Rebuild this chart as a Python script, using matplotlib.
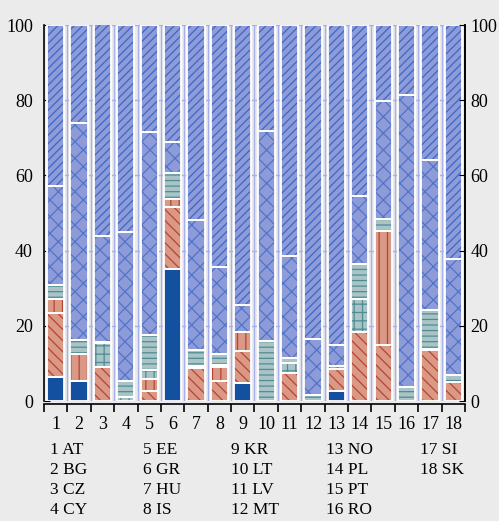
import numpy as np
import matplotlib
matplotlib.use('Agg')
import matplotlib.pyplot as plt

plt.rcParams['font.family'] = ['Liberation Serif', 'DejaVu Serif']
plt.rcParams['hatch.linewidth'] = 0.9

# bar numbers and country codes
bar_nums = list(range(1, 19))
countries = ['AT', 'BG', 'CZ', 'CY', 'EE', 'GR', 'HU', 'IS', 'KR',
             'LT', 'LV', 'MT', 'NO', 'PL', 'PT', 'RO', 'SI', 'SK']

# stacked shares (bottom to top)
seg_solid = [6.4, 5.2, 0, 0, 0, 35.2, 0, 0, 4.9, 0, 0, 0, 2.7, 0, 0, 0, 0, 0]
seg_diag = [17.1, 0, 9.0, 0, 2.6, 16.5, 8.8, 5.4, 8.3, 0, 7.5, 0, 5.9, 18.4, 15.0, 0, 13.6, 5.1]
seg_vert = [3.5, 7.3, 0, 0, 3.2, 1.9, 0, 3.6, 5.2, 0, 0, 0, 0.7, 0, 30.3, 0, 0, 0]
seg_grid = [0, 0, 6.3, 1.0, 2.4, 0, 0.5, 0.5, 0, 0, 2.5, 0, 0, 8.6, 0, 0, 0.3, 0]
seg_horiz = [3.8, 3.7, 0.5, 4.4, 9.3, 7.0, 4.4, 3.0, 0, 16.0, 1.4, 1.5, 0, 9.5, 3.0, 3.8, 10.3, 1.7]
seg_cross = [26.4, 57.7, 28.2, 39.6, 54.0, 8.3, 34.4, 23.2, 7.1, 55.7, 27.2, 15.1, 5.5, 18.0, 31.4, 77.7, 39.9, 30.9]
seg_top = [42.8, 26.1, 56.5, 55.0, 28.5, 31.1, 51.9, 64.3, 74.5, 28.3, 61.4, 83.4, 85.2, 45.5, 20.3, 18.5, 35.9, 62.3]

segments = [seg_solid, seg_diag, seg_vert, seg_grid, seg_horiz, seg_cross, seg_top]
styles = [
    ('#1450a0', '#1450a0', ''),
    ('#da9886', '#b8442e', '\\\\\\'),
    ('#da9886', '#b8442e', '||'),
    ('#a9c3c6', '#4f8d93', '++'),
    ('#a9c3c6', '#4f8d93', '---'),
    ('#8d9bd9', '#5274c8', 'xx'),
    ('#8d9bd9', '#3d66c4', '////'),
]

bg = '#ebebeb'
fig = plt.figure(figsize=(4.99, 5.21), dpi=100, facecolor=bg)
ax = fig.add_axes([0.088, 0.2303, 0.844, 0.7217], facecolor=bg)

x = np.array(bar_nums)
width = 0.74
bottom = np.zeros(len(x))
for vals, (fc, hc, hatch) in zip(segments, styles):
    vals = np.array(vals, dtype=float)
    ax.bar(x, vals, width, bottom=bottom, color=fc, edgecolor=hc,
           hatch=hatch, linewidth=0, zorder=2)
    for xi, b, v in zip(x, bottom, vals):
        if v > 0:
            ax.bar(xi, v, width, bottom=b, fill=False, edgecolor='white',
                   linewidth=1.3, zorder=3)
    bottom += vals

ax.set_xlim(0.5, 18.5)
ax.set_ylim(0, 100)

ax.set_yticks(range(0, 101, 20))
ax.set_xticks(x)
ax.set_xticklabels([str(n) for n in bar_nums])
ax.set_xticks(np.arange(0.5, 19, 1), minor=True)

grid_col = '#a6b0ea'
for yv in range(20, 101, 20):
    ax.axhline(yv, color=grid_col, linewidth=1, zorder=1)
for xv in np.arange(1.5, 18.5, 1):
    ax.axvline(xv, color=grid_col, linewidth=1, zorder=1)

ax.tick_params(axis='y', direction='in', length=4, labelsize=13, pad=8)
ax.tick_params(axis='x', which='major', length=0, pad=9, labelsize=13)
ax.tick_params(axis='x', which='minor', direction='out', length=6, width=1.2)
ax.spines['top'].set_visible(False)
ax.spines['bottom'].set_position(('outward', 2))
for s in ['left', 'right', 'bottom']:
    ax.spines[s].set_linewidth(1.2)

# right-hand scale
ax2 = ax.twinx()
ax2.set_ylim(0, 100)
ax2.set_yticks(range(0, 101, 20))
ax2.tick_params(axis='y', direction='in', length=4, labelsize=13, pad=4)
for s in ['top', 'left', 'bottom']:
    ax2.spines[s].set_visible(False)
ax2.spines['right'].set_linewidth(1.2)

# country key below the chart
col_x = [50, 143, 231, 326, 420]
row_y = [450, 470, 490, 510]
for i, (n, c) in enumerate(zip(bar_nums, countries)):
    col, row = divmod(i, 4)
    fig.text(col_x[col] / 499, 1 - row_y[row] / 521, f'{n} {c}',
             fontsize=12.5, va='center', ha='left')

fig.savefig('out.png', dpi=100, facecolor=bg)
